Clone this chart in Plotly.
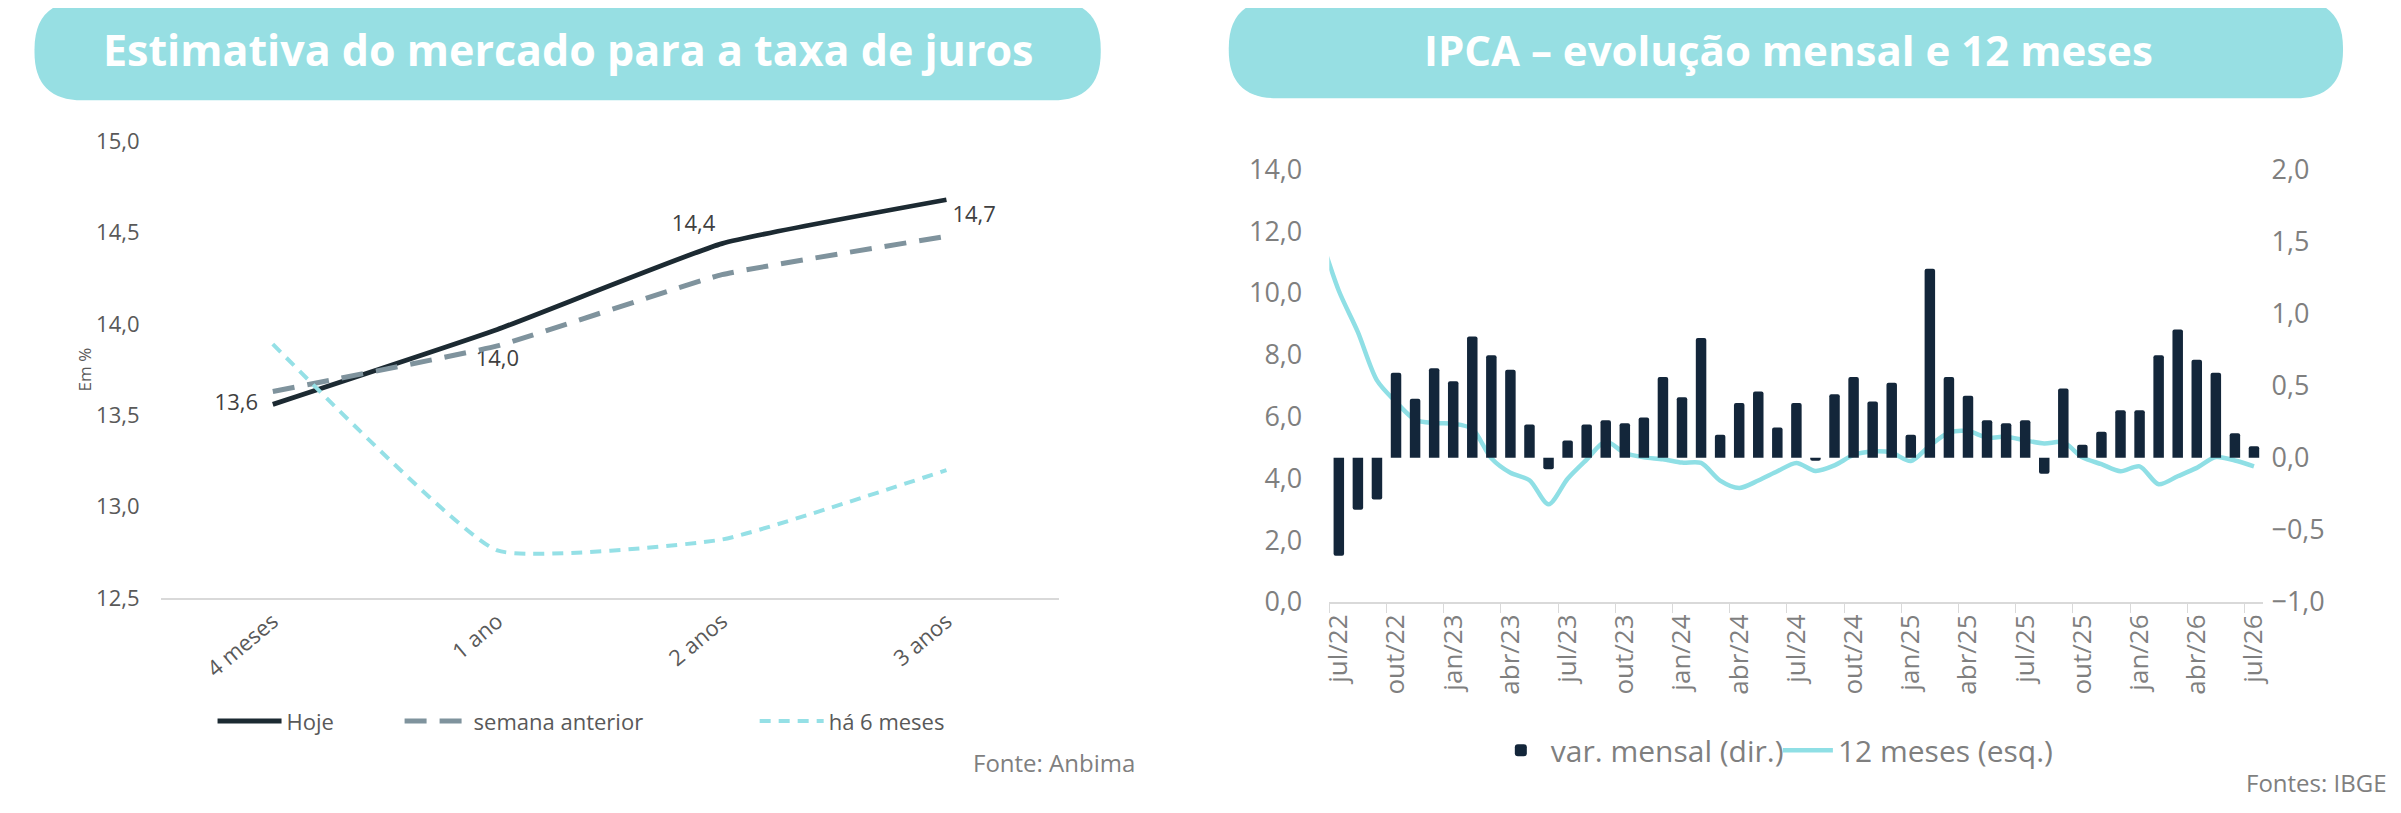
import plotly.graph_objects as go

W, H = 2401, 813
# a captura encaixa a figura numa caixa um pouco menor que a janela;
# as posições abaixo são pensadas em pixels da imagem final
CAP_X0, CAP_SX = 17.5, 0.9927
CAP_Y0, CAP_SY = 28.9, 0.953

# --- painel esquerdo: estimativa do mercado para a taxa de juros ---
prazos = ["4 meses", "1 ano", "2 anos", "3 anos"]
hoje = [13.56, 13.97, 14.44, 14.68]
semana_anterior = [13.63, 13.88, 14.27, 14.48]
ha_6_meses = [13.89, 12.76, 12.82, 13.20]
pos_rotulos_hoje = ["middle left", "bottom center", "top left", "bottom right"]
# marcadores invisíveis: só servem para afastar o rótulo da linha
afasta_rotulos = [22, 30, 9, 8]

# --- painel direito: IPCA mensal e 12 meses ---
meses = [
    "jul/22", "ago/22", "set/22", "out/22", "nov/22", "dez/22",
    "jan/23", "fev/23", "mar/23", "abr/23", "mai/23", "jun/23",
    "jul/23", "ago/23", "set/23", "out/23", "nov/23", "dez/23",
    "jan/24", "fev/24", "mar/24", "abr/24", "mai/24", "jun/24",
    "jul/24", "ago/24", "set/24", "out/24", "nov/24", "dez/24",
    "jan/25", "fev/25", "mar/25", "abr/25", "mai/25", "jun/25",
    "jul/25", "ago/25", "set/25", "out/25", "nov/25", "dez/25",
    "jan/26", "fev/26", "mar/26", "abr/26", "mai/26", "jun/26",
    "jul/26",
]
var_mensal = [
    -0.68, -0.36, -0.29, 0.59, 0.41, 0.62,
    0.53, 0.84, 0.71, 0.61, 0.23, -0.08,
    0.12, 0.23, 0.26, 0.24, 0.28, 0.56,
    0.42, 0.83, 0.16, 0.38, 0.46, 0.21,
    0.38, -0.02, 0.44, 0.56, 0.39, 0.52,
    0.16, 1.31, 0.56, 0.43, 0.26, 0.24,
    0.26, -0.11, 0.48, 0.09, 0.18, 0.33,
    0.33, 0.71, 0.89, 0.68, 0.59, 0.17,
    0.08,
]
# a linha começa um mês antes (fica cortada na borda do gráfico)
mes_anterior = "jun/22"
ipca_12m = [
    11.89,
    10.07, 8.73, 7.17, 6.47, 5.90, 5.79,
    5.77, 5.60, 4.65, 4.18, 3.94, 3.16,
    3.99, 4.61, 5.19, 4.82, 4.68, 4.62,
    4.51, 4.50, 3.93, 3.69, 3.93, 4.23,
    4.50, 4.24, 4.42, 4.76, 4.87, 4.83,
    4.56, 5.06, 5.48, 5.53, 5.32, 5.35,
    5.23, 5.13, 5.17, 4.68, 4.46, 4.23,
    4.39, 3.81, 4.07, 4.34, 4.69, 4.58,
    4.39,
]

TURQUESA = "#97dfe3"
FONTE = "Open Sans"
INVISIVEL = "rgba(0,0,0,0)"


def X(px):
    return (px - CAP_X0) / CAP_SX / W


def Y(py):
    return 1 - (py - CAP_Y0) / CAP_SY / H


def pilula(x0, y0, x1, y1, r):
    # retângulo de cantos arredondados em coordenadas de papel
    rx, ry = r / CAP_SX / W, r / CAP_SY / H
    a, b, c, d = X(x0), X(x1), Y(y1), Y(y0)
    return (f"M {a + rx},{d} L {b - rx},{d} Q {b},{d} {b},{d - ry} "
            f"L {b},{c + ry} Q {b},{c} {b - rx},{c} L {a + rx},{c} "
            f"Q {a},{c} {a},{c + ry} L {a},{d - ry} Q {a},{d} {a + rx},{d} Z")


fig = go.Figure()

fig.add_trace(go.Scatter(
    x=prazos, y=hoje, name="Hoje", mode="lines+markers+text",
    line=dict(color="#1c2a32", width=4.8, shape="spline", smoothing=0.4),
    marker=dict(size=afasta_rotulos, color=INVISIVEL, opacity=0,
                line=dict(width=0, color=INVISIVEL)),
    texttemplate="%{y:.1f}", textposition=pos_rotulos_hoje,
    textfont=dict(size=22, color="#404040"),
    xaxis="x", yaxis="y", legend="legend", cliponaxis=False, showlegend=True,
))
fig.add_trace(go.Scatter(
    x=prazos, y=semana_anterior, name="semana anterior", mode="lines",
    line=dict(color="#7f939d", width=5, dash="22px,13px", shape="spline", smoothing=0.3),
    xaxis="x", yaxis="y", legend="legend2", showlegend=True,
))
fig.add_trace(go.Scatter(
    x=prazos, y=ha_6_meses, name="há 6 meses", mode="lines",
    line=dict(color="#95e0e6", width=4, dash="11px,8px", shape="spline", smoothing=0.4),
    xaxis="x", yaxis="y", legend="legend3", showlegend=True,
))

fig.add_trace(go.Bar(
    x=meses, y=var_mensal, name="var. mensal (dir.)",
    marker=dict(color="#13263a", line=dict(width=0), cornerradius=2),
    width=0.55, xaxis="x2", yaxis="y3", legend="legend4", showlegend=True,
))
fig.add_trace(go.Scatter(
    x=[mes_anterior] + meses, y=ipca_12m, name="12 meses (esq.)", mode="lines",
    line=dict(color="#8fdfe5", width=4.5, shape="spline", smoothing=0.8),
    xaxis="x2", yaxis="y2", legend="legend5", showlegend=True,
))

eixo_cinza = "#d9d9d9"
fig.update_layout(
    width=W, height=H,
    margin=dict(l=0, r=0, t=0, b=0),
    paper_bgcolor="white", plot_bgcolor="white",
    font=dict(family=FONTE, color="#595959"),
    separators=",.",
    showlegend=True,
    xaxis=dict(
        domain=[X(160), X(1058)], anchor="y", type="category",
        range=[-0.5, 3.5], showgrid=False, zeroline=False,
        showline=True, linecolor=eixo_cinza, linewidth=2,
        tickangle=-40, tickfont=dict(size=22, color="#595959"),
    ),
    yaxis=dict(
        domain=[Y(598), Y(142)], anchor="x",
        range=[12.5, 15.0], tick0=12.5, dtick=0.5, tickformat=".1f",
        showgrid=False, zeroline=False, ticklabelstandoff=20,
        tickfont=dict(size=22, color="#595959"),
        title=dict(text="Em %", font=dict(size=17, color="#595959"), standoff=0),
    ),
    xaxis2=dict(
        domain=[X(1328.5), X(2262.5)], anchor="y2", type="category",
        categoryorder="array", categoryarray=[mes_anterior] + meses,
        range=[0.5, len(meses) + 0.5], tickvals=meses[::3],
        tickson="boundaries", ticks="outside", ticklen=9, tickcolor=eixo_cinza,
        showgrid=False, zeroline=False,
        showline=True, linecolor=eixo_cinza, linewidth=2,
        tickangle=-90, tickfont=dict(size=26, color="#7f7f7f"),
    ),
    yaxis2=dict(
        domain=[Y(602), Y(170)], anchor="x2",
        range=[0, 14], dtick=2, tickformat=".1f",
        showgrid=False, zeroline=False, ticklabelstandoff=26,
        tickfont=dict(size=27, color="#7f7f7f"),
    ),
    yaxis3=dict(
        overlaying="y2", side="right", anchor="x2",
        range=[-1, 2], dtick=0.5, tickformat=".1f",
        showgrid=False, zeroline=False, ticklabelstandoff=7,
        tickfont=dict(size=27, color="#7f7f7f"),
    ),
    bargap=0.45,
)

legenda_esq = dict(orientation="h", yanchor="middle", xanchor="left", itemwidth=64,
                   bgcolor=INVISIVEL, font=dict(size=22, color="#595959"))
legenda_dir = dict(orientation="h", yanchor="middle", xanchor="left", itemwidth=50,
                   bgcolor=INVISIVEL, font=dict(size=30, color="#7f7f7f"))
fig.update_layout(
    legend=dict(legenda_esq, x=X(212), y=Y(721)),
    legend2=dict(legenda_esq, x=X(399), y=Y(721)),
    legend3=dict(legenda_esq, x=X(754), y=Y(721)),
    legend4=dict(legenda_dir, x=X(1490), y=Y(750)),
    legend5=dict(legenda_dir, x=X(1777), y=Y(750)),
)

# faixas de título
fig.add_shape(type="path", path=pilula(34, 2, 1100, 101, 48),
              xref="paper", yref="paper", fillcolor=TURQUESA, line_width=0, layer="below")
fig.add_shape(type="path", path=pilula(1228, 1, 2342, 99, 48),
              xref="paper", yref="paper", fillcolor=TURQUESA, line_width=0, layer="below")

fig.add_annotation(text="<b>Estimativa do mercado para a taxa de juros</b>",
                   x=X(567), y=Y(50), xref="paper", yref="paper", showarrow=False,
                   xanchor="center", yanchor="middle",
                   font=dict(size=43, color="white", family=FONTE))
fig.add_annotation(text="<b>IPCA – evolução mensal e 12 meses</b>",
                   x=X(1788), y=Y(50), xref="paper", yref="paper", showarrow=False,
                   xanchor="center", yanchor="middle",
                   font=dict(size=42, color="white", family=FONTE))

fig.add_annotation(text="Fonte: Anbima", x=X(1136), y=Y(762), xref="paper", yref="paper",
                   xanchor="right", yanchor="middle", showarrow=False,
                   font=dict(size=24, color="#7f7f7f"))
fig.add_annotation(text="Fontes: IBGE", x=X(2388), y=Y(782), xref="paper", yref="paper",
                   xanchor="right", yanchor="middle", showarrow=False,
                   font=dict(size=24, color="#7f7f7f"))

fig.write_html("out.html", config={"displayModeBar": False})
